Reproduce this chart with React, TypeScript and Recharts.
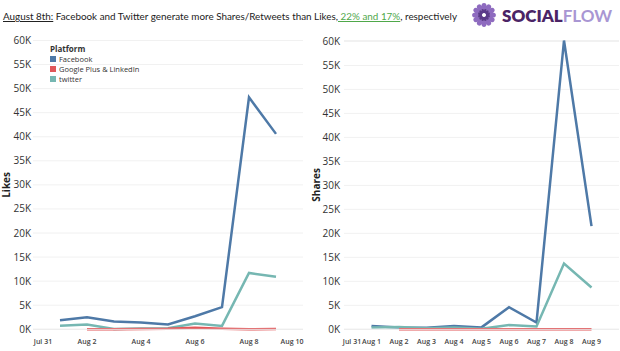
import React from "react";
import { CartesianGrid, Line, LineChart, XAxis, YAxis } from "recharts";

const dayLabels = ["Jul 31", "Aug 1", "Aug 2", "Aug 3", "Aug 4", "Aug 5", "Aug 6", "Aug 7", "Aug 8", "Aug 9", "Aug 10"];
const days = [1, 2, 3, 4, 5, 6, 7, 8, 9];

const facebookLikes = [1900, 2500, 1600, 1400, 1000, 2700, 4600, 48200, 40600];
const googleLikes = [null, 0, 30, 80, 100, 300, 100, 20, 80];
const twitterLikes = [750, 1000, 50, 150, 200, 1200, 700, 11700, 10900];

const facebookShares = [700, 400, 300, 700, 400, 4600, 1400, 60200, 21500];
const googleShares = [null, 0, 0, 0, 0, 0, 0, 0, 0];
const twitterShares = [400, 500, 200, 400, 100, 900, 600, 13700, 8700];

const yTicks = [0, 5000, 10000, 15000, 20000, 25000, 30000, 35000, 40000, 45000, 50000, 55000, 60000];
const leftXTicks = [0, 2, 4, 6, 8, 10];
const rightXTicks = [0, 1, 2, 3, 4, 5, 6, 7, 8, 9];

const platforms = [
  { key: "facebook", name: "Facebook", color: "#4e79a7" },
  { key: "google", name: "Google Plus & LinkedIn", color: "#e15759" },
  { key: "twitter", name: "twitter", color: "#76b7b2" },
];

const likesData = days.map((d, i) => ({ day: d, facebook: facebookLikes[i], google: googleLikes[i], twitter: twitterLikes[i] }));
const sharesData = days.map((d, i) => ({ day: d, facebook: facebookShares[i], google: googleShares[i], twitter: twitterShares[i] }));

const FONT = "'Open Sans', 'DejaVu Sans', sans-serif";

const XTick = ({ x, y, payload, first, last }: any) => {
  let dx = 0;
  if (payload.value === 0) dx = first;
  if (payload.value === 10) dx = last;
  return (
    <text x={x + dx} y={y} dy={5} textAnchor="middle" fontSize={7} fontWeight={600} fill="#444" fontFamily={FONT}>
      {dayLabels[payload.value]}
    </text>
  );
};

const YTick = ({ x, y, payload }: any) => (
  <text x={x} y={y} dy={3.5} textAnchor="end" fontSize={10} fill="#333" fontFamily={FONT}>
    {payload.value / 1000}K
  </text>
);

const AxisTitle = (text: string) => ({ viewBox }: any) => (
  <text
    x={viewBox.x + 10}
    y={viewBox.y + viewBox.height / 2}
    transform={`rotate(-90, ${viewBox.x + 10}, ${viewBox.y + viewBox.height / 2})`}
    textAnchor="middle"
    fontSize={10}
    fontWeight={700}
    fill="#222"
    fontFamily={FONT}
  >
    {text}
  </text>
);

const PlatformLegend = () => (
  <div style={{ position: "absolute", left: 50, top: 44, fontFamily: FONT, fontSize: 7.5, color: "#333", lineHeight: "10px" }}>
    <div style={{ fontWeight: 700, fontSize: 8, marginBottom: 0 }}>Platform</div>
    {platforms.map((p) => (
      <div key={p.key} style={{ display: "flex", alignItems: "center" }}>
        <span style={{ display: "inline-block", width: 6, height: 6, background: p.color, marginRight: 3 }} />
        {p.name}
      </div>
    ))}
  </div>
);

function Panel({ data, title, yWidth, marginRight, xTicks, first, last, tickMargin }: any) {
  return (
    <LineChart width={310} height={351} data={data} margin={{ top: 40.5, right: marginRight, left: 0, bottom: 7.7 }}>
      <CartesianGrid vertical={false} stroke="#f1f1f1" />
      <XAxis
        dataKey="day"
        type="number"
        domain={[0, 10]}
        ticks={xTicks}
        interval={0}
        height={14}
        tickSize={0}
        tickMargin={10}
        axisLine={{ stroke: "#ececec" }}
        tick={<XTick first={first} last={last} />}
      />
      <YAxis
        domain={[0, 60000]}
        ticks={yTicks}
        interval={0}
        width={yWidth}
        tickSize={0}
        tickMargin={tickMargin}
        axisLine={false}
        tick={<YTick />}
        label={AxisTitle(title)}
      />
      <Line type="linear" dataKey="facebook" stroke="#4e79a7" strokeWidth={2.5} dot={false} isAnimationActive={false} />
      <Line type="linear" dataKey="twitter" stroke="#76b7b2" strokeWidth={2.5} dot={false} isAnimationActive={false} />
      <Line type="linear" dataKey="google" stroke="#e15759" strokeWidth={2.5} dot={false} isAnimationActive={false} connectNulls={false} />
    </LineChart>
  );
}

const petals = Array.from({ length: 12 }, (_, i) => i * 30);

export default function App() {
  return (
    <div style={{ position: "absolute", left: 0, top: 0, width: 620, height: 351, background: "#fff", fontFamily: FONT }}>
      <svg width={620} height={32} style={{ position: "absolute", left: 0, top: 0 }}>
        <text x={3} y={20} fontSize={10} fill="#222" fontFamily="Lato, sans-serif" textLength={454} lengthAdjust="spacingAndGlyphs">
          <tspan style={{ textDecoration: "underline" }}>August 8th:</tspan>
          <tspan> Facebook and Twitter generate more Shares/Retweets than Likes,</tspan>
          <tspan fill="#4fa84a" style={{ textDecoration: "underline" }}> 22% and 17%</tspan>
          <tspan>, respectively</tspan>
        </text>
        <g transform="translate(484,15)">
          {petals.map((a) => (
            <ellipse key={"o" + a} cx={0} cy={-8.5} rx={2.6} ry={3.4} fill="#8e6bbf" transform={`rotate(${a})`} />
          ))}
          {petals.map((a) => (
            <ellipse key={"i" + a} cx={0} cy={-4} rx={1.5} ry={2.2} fill="#5b3a8a" transform={`rotate(${a + 15})`} />
          ))}
          <circle r={1.6} fill="#fff" />
        </g>
        <text x={502} y={22} fontSize={17} fontWeight={800} fontFamily="Lato, 'Open Sans', sans-serif" textLength={110} lengthAdjust="spacingAndGlyphs">
          <tspan fill="#4b2466">SOCIAL</tspan>
          <tspan fill="#a996d3" fontWeight={700}>FLOW</tspan>
        </text>
      </svg>
      <div style={{ position: "absolute", left: 0, top: 0 }}>
        <Panel data={likesData} title="Likes" yWidth={33} marginRight={7} xTicks={leftXTicks} first={10} last={-11} tickMargin={2} />
      </div>
      <div style={{ position: "absolute", left: 310, top: 0 }}>
        <Panel data={sharesData} title="Shares" yWidth={34} marginRight={1} xTicks={rightXTicks} first={8} last={0} tickMargin={4} />
      </div>
      <PlatformLegend />
    </div>
  );
}
